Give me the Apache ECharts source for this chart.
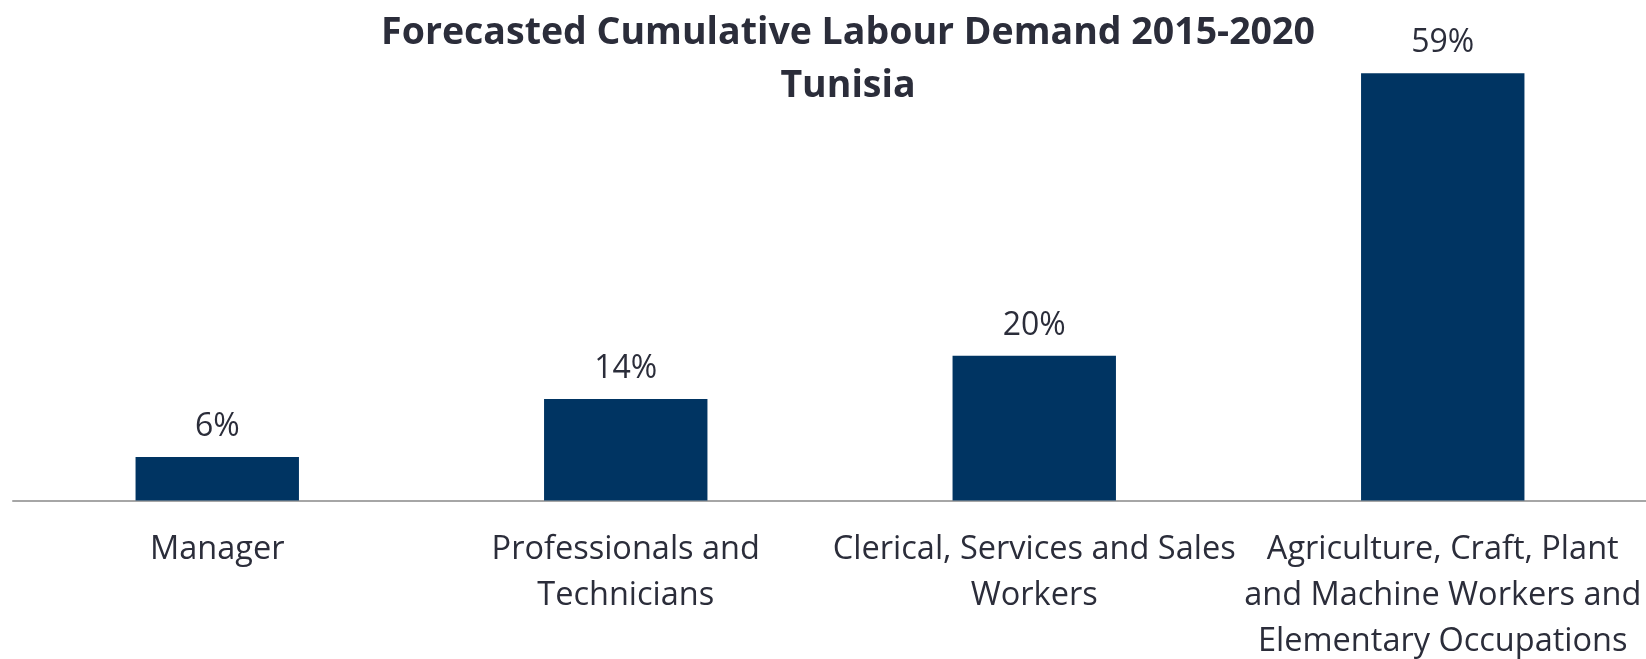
<!DOCTYPE html>
<html>
<head>
<meta charset="utf-8">
<script src="https://cdn.jsdelivr.net/npm/echarts@6/dist/echarts.min.js"></script>
<style>
html,body{margin:0;padding:0;background:#fff;}
#chart{width:1646px;height:659px;}
</style>
</head>
<body>
<div id="chart"></div>
<script>
const titleLines = ['Forecasted Cumulative Labour Demand 2015-2020', 'Tunisia'];
const categories = [
  'Manager',
  'Professionals and\nTechnicians',
  'Clerical, Services and Sales\nWorkers',
  'Agriculture, Craft, Plant\nand Machine Workers and\nElementary Occupations'
];
const values = [6, 14, 20, 59];

const textColor = '#2b2d3a';
const chart = echarts.init(document.getElementById('chart'));
chart.setOption({
  animation: false,
  backgroundColor: '#ffffff',
  title: {
    text: titleLines.join('\n'),
    left: 843,
    textAlign: 'center',
    top: 2,
    textStyle: {
      fontFamily: 'Open Sans',
      fontWeight: 'bold',
      fontSize: 37.5,
      lineHeight: 53,
      color: textColor
    }
  },
  grid: { left: 13, width: 1634, top: 66, bottom: 158.5, containLabel: false, outerBoundsMode: 'none' },
  xAxis: {
    type: 'category',
    data: categories,
    axisLine: { show: true, lineStyle: { color: '#a6a6a6', width: 2 } },
    axisTick: { show: false },
    axisLabel: {
      interval: 0,
      margin: 26,
      fontFamily: 'Open Sans',
      fontSize: 32.5,
      lineHeight: 46,
      color: textColor,
      align: 'center'
    }
  },
  yAxis: {
    type: 'value',
    min: 0,
    max: 60,
    show: false,
    splitLine: { show: false }
  },
  series: [{
    type: 'bar',
    data: values,
    barWidth: '40%',
    itemStyle: { color: '#003462' },
    label: {
      show: true,
      position: 'top',
      distance: 14,
      formatter: '{c}%',
      fontFamily: 'Open Sans',
      fontSize: 32,
      color: textColor
    }
  }]
});
</script>
</body>
</html>
